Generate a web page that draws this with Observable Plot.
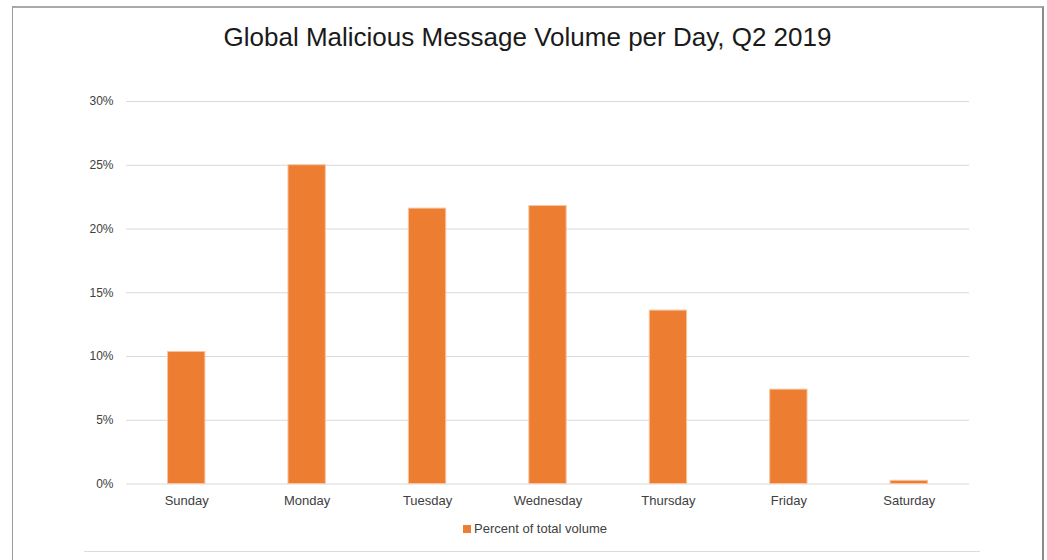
<!DOCTYPE html>
<html>
<head>
<meta charset="utf-8">
<script src="https://cdn.jsdelivr.net/npm/d3@7"></script>
<script src="https://cdn.jsdelivr.net/npm/@observablehq/plot@0.6"></script>
<style>
  html, body { margin: 0; padding: 0; background: #fff; width: 1047px; height: 560px; overflow: hidden; font-family: "Liberation Sans", Arial, sans-serif; }
  #frame { position: absolute; left: 12px; top: 6px; width: 1029px; height: 560px; border-top: 2px solid #a9a9a9; border-left: 1px solid #9a9a9a; border-right: 2px solid #8a8a8a; }
  #title { position: absolute; left: 12px; width: 1031px; top: 22px; text-align: center; font-size: 26px; color: #1a1a1a; }
  #chart { position: absolute; left: 0; top: 0; }
  #legend { position: absolute; left: 463px; top: 521px; font-size: 13px; color: #404040; display: flex; align-items: center; }
  #legend .sw { width: 8px; height: 8px; background: #ED7D31; margin-right: 3px; }
  #bottomline { position: absolute; left: 84px; width: 896px; top: 551px; height: 0; border-top: 1px solid #dcdcdc; }
</style>
</head>
<body>
<div id="frame"></div>
<div id="title">Global Malicious Message Volume per Day, Q2 2019</div>
<div id="chart"></div>
<div id="legend"><span class="sw"></span><span id="legendLabel"></span></div>
<div id="bottomline"></div>
<script>
const days = ["Sunday", "Monday", "Tuesday", "Wednesday", "Thursday", "Friday", "Saturday"];
const percentOfTotal = [10.35, 25.0, 21.6, 21.8, 13.6, 7.4, 0.25];
const yTicks = [0, 5, 10, 15, 20, 25, 30];
const seriesName = "Percent of total volume";

const data = days.map((d, i) => ({day: d, value: percentOfTotal[i]}));
document.getElementById("legendLabel").textContent = seriesName;

const plot = Plot.plot({
  width: 1047,
  height: 520,
  marginTop: 101,
  marginBottom: 36.5,
  marginLeft: 126,
  marginRight: 78,
  style: {fontFamily: "'Liberation Sans', Arial, sans-serif", color: "#404040", background: "transparent"},
  x: {domain: days, paddingInner: 0.69, paddingOuter: 0.345, round: false, label: null, tickSize: 0, tickPadding: 12},
  y: {domain: [0, 30], ticks: yTicks, label: null, tickSize: 0, tickPadding: 13, tickFormat: d => d + "%"},
  marks: [
    Plot.gridY(yTicks, {stroke: "#d9d9d9", strokeOpacity: 1, strokeWidth: 1}),
    Plot.barY(data, {x: "day", y: "value", fill: "#ED7D31", stroke: "#f7c3a0", strokeWidth: 1}),
    Plot.axisY({ticks: yTicks, tickSize: 0, tickPadding: 13, tickFormat: d => d + "%", fontSize: 12, label: null}),
    Plot.axisX({tickSize: 0, tickPadding: 12, fontSize: 13, label: null})
  ]
});
document.getElementById("chart").appendChild(plot);
</script>
</body>
</html>
